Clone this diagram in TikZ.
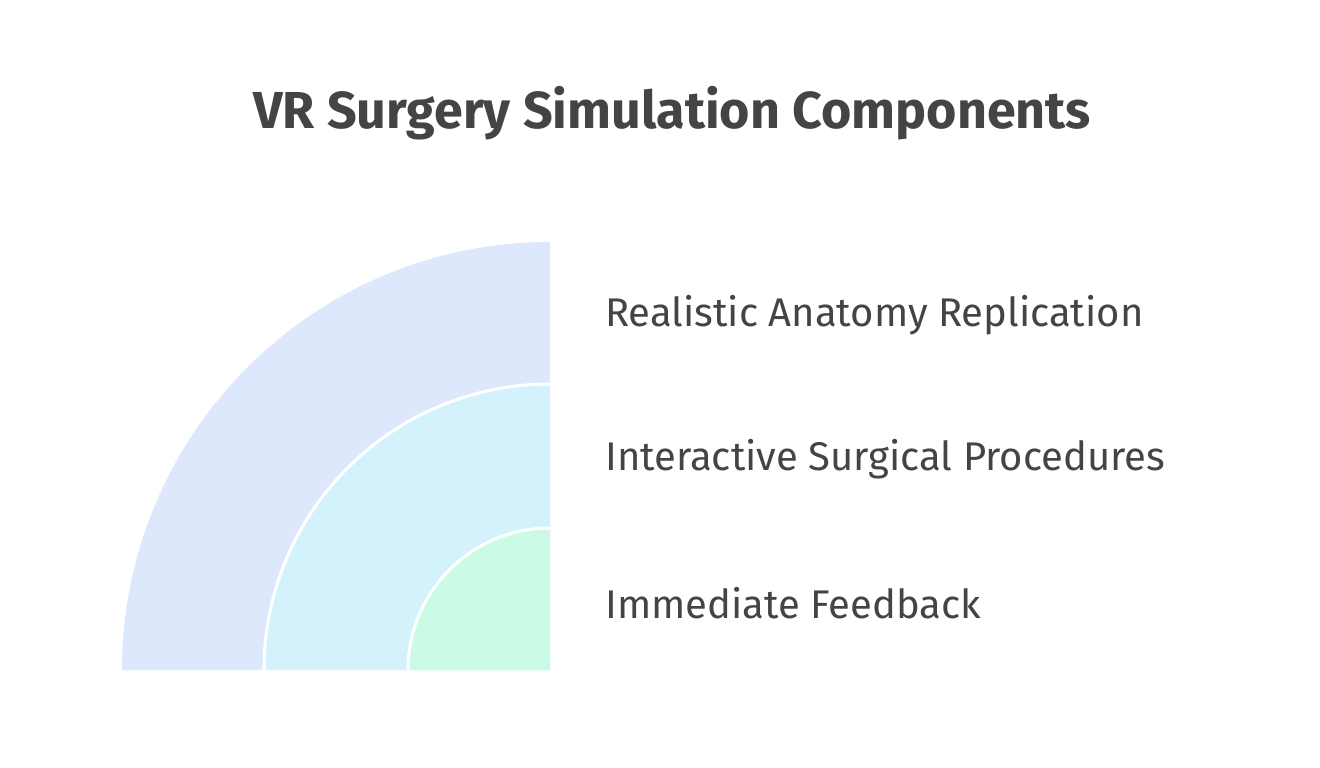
\documentclass[tikz,border=0pt]{standalone}
\usepackage{fontspec}
\setmainfont{Fira Sans}
\definecolor{txt}{HTML}{444444}
\definecolor{c1}{HTML}{DDE8FC}
\definecolor{c2}{HTML}{D4F2FC}
\definecolor{c3}{HTML}{CBFBE5}
\begin{document}
\begin{tikzpicture}[x=1pt,y=-1pt,
  lbl/.style={anchor=west,text=txt,font=\fontsize{40}{44}\selectfont,inner sep=0pt},
  ring/.style={draw=white,line width=3pt}]
\useasboundingbox[fill=white] (0,0) rectangle (1320,768);
\node[text=txt,font=\bfseries\fontsize{52}{56}\selectfont] (title) at (672,113) {VR Surgery Simulation Components};
\fill[c1] (550,670) -- (122,670) arc[start angle=180,end angle=270,radius=428] -- cycle;
\fill[c2] (550,670) -- (264,670) arc[start angle=180,end angle=270,radius=286] -- cycle;
\draw[ring] (264,670) arc[start angle=180,end angle=270,radius=286];
\fill[c3] (550,670) -- (408,670) arc[start angle=180,end angle=270,radius=142] -- cycle;
\draw[ring] (408,670) arc[start angle=180,end angle=270,radius=142];
\node[lbl] (l1) at (605,315) {Realistic Anatomy Replication};
\node[lbl] (l2) at (605,459) {Interactive Surgical Procedures};
\node[lbl] (l3) at (605,603) {Immediate Feedback};
\end{tikzpicture}
\end{document}
